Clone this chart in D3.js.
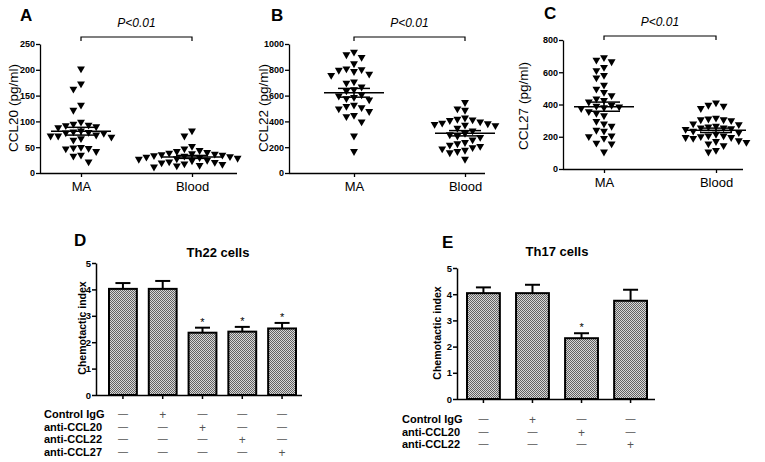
<!DOCTYPE html>
<html><head><meta charset="utf-8">
<script src="https://cdn.jsdelivr.net/npm/d3@7"></script>
<style>body{margin:0;background:#fff}svg{display:block}text{font-family:Arial,"Liberation Sans",sans-serif}</style>
</head><body>
<script>
// ---------- DATA ----------
const scatterCats = ["MA", "Blood"];
const ccl20MA = [200,171,161,130,120,97,93,91,90,88,86,80,78,77,76,75,72,70,70,68,65,62,48,47,46,45,40,33,31,20];
const ccl20Blood = [80,70,50,45,42,40,38,37,36,35,34,33,32,31,30,29,28,27,26,25,23,22,20,19,18,16,15,13,12,10];
const ccl22MA = [930,910,890,840,800,795,790,780,760,750,700,690,660,640,630,600,590,580,570,560,520,510,500,490,470,440,430,390,280,160];
const ccl22Blood = [540,490,480,420,410,405,400,390,380,375,370,365,360,340,320,300,290,280,270,250,230,220,210,200,190,180,170,160,150,100];
const ccl27MA = [685,670,660,625,605,575,560,515,490,470,450,430,420,410,390,385,380,375,370,350,340,325,290,275,260,235,230,200,195,185,155,150,100];
const ccl27Blood = [405,390,385,370,310,305,300,300,295,275,270,260,255,250,250,245,240,230,220,210,200,200,195,190,190,185,170,165,160,150,140,110,100];
const ticksA = [0,50,100,150,200,250];
const ticksB = [0,200,400,600,800,1000];
const ticksC = [0,200,400,600,800];
const pLabel = "P<0.01";

const barTicks = [0,1,2,3,4,5];
const th22Means = [4.02,4.02,2.36,2.40,2.52];
const th22Sem = [0.22,0.30,0.19,0.18,0.21];
const th22Sig = [false,false,true,true,true];
const th22Rows = ["Control IgG","anti-CCL20","anti-CCL22","anti-CCL27"];
const th22Signs = [["−","+","−","−","−"],["−","−","+","−","−"],["−","−","−","+","−"],["−","−","−","−","+"]];
const th17Means = [4.04,4.04,2.32,3.75];
const th17Sem = [0.22,0.32,0.19,0.42];
const th17Sig = [false,false,true,false];
const th17Rows = ["Control IgG","anti-CCL20","anti-CCL22"];
const th17Signs = [["−","+","−","−"],["−","−","+","−"],["−","−","−","+"]];

// ---------- DRAW ----------
const FONT = "Arial, Liberation Sans, sans-serif";
const svg = d3.select("body").append("svg").attr("width",765).attr("height",462);
const defs = svg.append("defs");
const pat = defs.append("pattern").attr("id","chk").attr("patternUnits","userSpaceOnUse").attr("width",2).attr("height",2);
pat.append("rect").attr("width",2).attr("height",2).attr("fill","#d8d8d8");
pat.append("rect").attr("width",1).attr("height",1).attr("fill","#626262");
pat.append("rect").attr("x",1).attr("y",1).attr("width",1).attr("height",1).attr("fill","#626262");

function sem(a){return d3.deviation(a)/Math.sqrt(a.length);}

function beeswarm(vals, y, cx){
  const sorted = vals.slice().sort((a,b)=>b-a);
  const placed = [];
  const dxs = 7.6, minDy = 6.8;
  sorted.forEach(v=>{
    const py = y(v);
    for(let k=0;k<40;k++){
      const off = (k===0?0:(k%2===1?-1:1)*Math.ceil(k/2))*dxs;
      const ok = placed.every(p=>!(Math.abs(p.x-(cx+off))<7 && Math.abs(p.y-py)<minDy));
      if(ok){placed.push({x:cx+off,y:py,v});break;}
    }
  });
  return placed;
}

function scatterPanel(cfg){
  const g = svg.append("g");
  const y = d3.scaleLinear().domain([0,cfg.ticks[cfg.ticks.length-1]]).range([cfg.yBot,cfg.yTop]);
  const x = d3.scalePoint().domain(scatterCats).range([cfg.c0,cfg.c1]);
  const ya = g.append("g").attr("transform",`translate(${cfg.ax},0)`)
    .call(d3.axisLeft(y).tickValues(cfg.ticks).tickSize(4).tickSizeOuter(0).tickFormat(d3.format("d")));
  ya.select(".domain").attr("stroke","#000").attr("stroke-width",1.3);
  ya.selectAll(".tick line").attr("stroke-width",1.3);
  ya.selectAll(".tick text").attr("font-size",9).attr("font-weight","bold").attr("font-family",FONT).attr("x",-5);
  const xa = g.append("g").attr("transform",`translate(0,${cfg.yBot})`).call(d3.axisBottom(x).tickSize(4).tickSizeOuter(0));
  xa.select(".domain").attr("d",`M${cfg.ax},0.5H${cfg.axEnd}`).attr("stroke-width",1.3);
  xa.selectAll(".tick line").attr("stroke-width",1.3);
  xa.selectAll(".tick text").attr("font-size",13).attr("font-family",FONT).attr("y",9);
  g.append("text").attr("transform",`translate(${cfg.ylx},${cfg.yly}) rotate(-90)`).attr("text-anchor","middle")
    .attr("font-size",13.5).text(cfg.ylabel);
  g.append("text").attr("x",cfg.lx).attr("y",cfg.ly).attr("font-size",17).attr("font-weight","bold").text(cfg.letter);
  const by = cfg.by;
  g.append("path").attr("d",`M${x("MA")},${by+4}V${by}H${x("Blood")}V${by+4}`).attr("fill","none").attr("stroke","#000").attr("stroke-width",1.2);
  g.append("text").attr("x",(x("MA")+x("Blood"))/2).attr("y",by-10).attr("text-anchor","middle")
    .attr("font-size",12).attr("font-style","italic").text(pLabel);
  [cfg.d0,cfg.d1].forEach((vals,i)=>{
    const cx = x(scatterCats[i]);
    const pts = beeswarm(vals,y,cx);
    g.selectAll(null).data(pts).enter().append("path")
      .attr("d",d3.symbol(d3.symbolTriangle,27))
      .attr("transform",d=>`translate(${d.x},${d.y-1}) rotate(180)`).attr("fill","#000");
    const m = d3.mean(vals), s = sem(vals);
    g.append("line").attr("x1",cx-30).attr("x2",cx+30).attr("y1",y(m)).attr("y2",y(m)).attr("stroke","#000").attr("stroke-width",1.5);
    [m-s,m+s].forEach(v=>g.append("line").attr("x1",cx-16).attr("x2",cx+16).attr("y1",y(v)).attr("y2",y(v)).attr("stroke","#000").attr("stroke-width",1.5));
    g.append("line").attr("x1",cx).attr("x2",cx).attr("y1",y(m-s)).attr("y2",y(m+s)).attr("stroke","#000").attr("stroke-width",1.5);
  });
}

scatterPanel({ticks:ticksA,yTop:44,yBot:173,ax:40,c0:81,c1:192,axEnd:237,ylx:18,yly:108,ylabel:"CCL20 (pg/ml)",
  letter:"A",lx:20,ly:21,by:37,d0:ccl20MA,d1:ccl20Blood});
scatterPanel({ticks:ticksB,yTop:44,yBot:173,ax:289,c0:354,c1:465,axEnd:485,ylx:268,yly:108,ylabel:"CCL22  (pg/ml)",
  letter:"B",lx:271,ly:21,by:37,d0:ccl22MA,d1:ccl22Blood});
scatterPanel({ticks:ticksC,yTop:40,yBot:169,ax:563,c0:604,c1:716,axEnd:743,ylx:528,yly:106,ylabel:"CCL27  (pg/ml)",
  letter:"C",lx:544,ly:19,by:36,d0:ccl27MA,d1:ccl27Blood});

function barPanel(cfg){
  const g = svg.append("g");
  const n = cfg.means.length;
  const x = d3.scaleBand().domain(d3.range(n)).range([cfg.b0,cfg.b1]).paddingInner(cfg.pi).paddingOuter(0);
  const y = d3.scaleLinear().domain([0,5]).range([cfg.yBot,cfg.yTop]);
  g.selectAll(null).data(cfg.means).enter().append("rect")
    .attr("x",(d,i)=>x(i)).attr("width",x.bandwidth()).attr("y",d=>y(d)).attr("height",d=>cfg.yBot-y(d))
    .attr("fill","url(#chk)").attr("stroke","#000").attr("stroke-width",2);
  cfg.means.forEach((m,i)=>{
    const cx = x(i)+x.bandwidth()/2, top = y(m+cfg.sem[i]);
    g.append("line").attr("x1",cx).attr("x2",cx).attr("y1",y(m)).attr("y2",top).attr("stroke","#000").attr("stroke-width",2);
    g.append("line").attr("x1",cx-7.5).attr("x2",cx+7.5).attr("y1",top).attr("y2",top).attr("stroke","#000").attr("stroke-width",2);
    if(cfg.sig[i]) g.append("text").attr("x",cx).attr("y",top-2).attr("text-anchor","middle").attr("font-size",11).attr("fill","#000").text("*");
  });
  const ya = g.append("g").attr("transform",`translate(${cfg.ax},0)`)
    .call(d3.axisLeft(y).tickValues(barTicks).tickSize(4).tickSizeOuter(0).tickFormat(d3.format("d")));
  ya.select(".domain").attr("stroke-width",1.5);
  ya.selectAll(".tick line").attr("stroke-width",1.5);
  ya.selectAll(".tick text").attr("font-size",9.5).attr("font-weight","bold").attr("font-family",FONT).attr("x",-5).attr("fill","#000");
  const xa = g.append("g").attr("transform",`translate(0,${cfg.yBot})`).call(d3.axisBottom(x).tickSize(4).tickSizeOuter(0).tickFormat(""));
  xa.select(".domain").attr("d",`M${cfg.ax},0.5H${cfg.axEnd}`).attr("stroke-width",1.5);
  xa.selectAll(".tick line").attr("stroke-width",1.5);
  g.append("text").attr("transform",`translate(${cfg.ylx},${cfg.yly}) rotate(-90)`).attr("text-anchor","middle")
    .attr("font-size",10.5).attr("font-weight","bold").text("Chemotactic index");
  g.append("text").attr("x",cfg.tx).attr("y",cfg.ty).attr("text-anchor","middle").attr("font-size",13).attr("font-weight","bold").text(cfg.title);
  g.append("text").attr("x",cfg.lx).attr("y",cfg.ly).attr("font-size",17).attr("font-weight","bold").text(cfg.letter);
  cfg.rows.forEach((r,ri)=>{
    const ry = cfg.row0 + ri*cfg.rowStep;
    g.append("text").attr("x",cfg.rlx).attr("y",ry).attr("font-size",11).attr("font-weight","bold").text(r);
    g.selectAll(null).data(cfg.signs[ri]).enter().append("text")
      .attr("x",(d,i)=>x(i)+x.bandwidth()/2).attr("y",d=>d==="+"?ry+1:ry-1).attr("text-anchor","middle")
      .attr("font-size",d=>d==="+"?12:10).attr("fill","#555").text(d=>d==="−"?"—":d);
  });
}

barPanel({means:th22Means,sem:th22Sem,sig:th22Sig,ax:96,axEnd:302,b0:109,b1:296,pi:0.3,yTop:263,yBot:395,
  ylx:86,yly:328,title:"Th22 cells",tx:218,ty:257,letter:"D",lx:74,ly:246,
  rows:th22Rows,signs:th22Signs,rlx:44,row0:418,rowStep:12.7});
barPanel({means:th17Means,sem:th17Sem,sig:th17Sig,ax:457,axEnd:655,b0:467,b1:647,pi:0.33,yTop:268,yBot:399,
  ylx:441,yly:333,title:"Th17 cells",tx:557,ty:256,letter:"E",lx:442,ly:248,
  rows:th17Rows,signs:th17Signs,rlx:402,row0:423,rowStep:12.5});
</script>
</body></html>
